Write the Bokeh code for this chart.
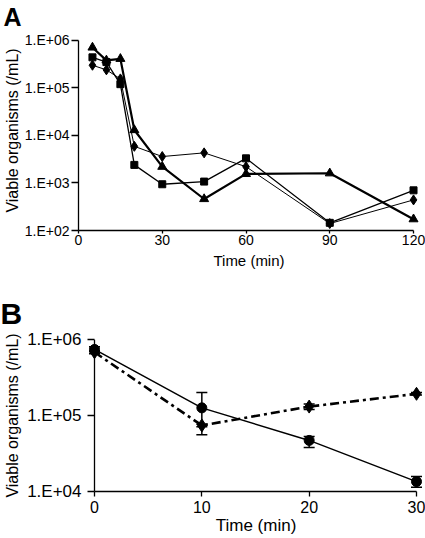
from bokeh.plotting import figure
from bokeh.models import (FixedTicker, CustomJSTickFormatter, Whisker,
                          ColumnDataSource, TeeHead, Range1d, Span)
from bokeh.embed import file_html
from bokeh.resources import INLINE

FONT = "Liberation Sans"

# ---------------- data: panel A ----------------
time_a = [5, 10, 15, 20, 30, 45, 60, 90, 120]
a_diamond = [3.0e5, 2.4e5, 1.55e5, 5.9e3, 3.6e3, 4.3e3, 2.2e3, 1.4e2, 4.4e2]
a_square = [4.4e5, 3.5e5, 1.2e5, 2.4e3, 9.4e2, 1.07e3, 3.3e3, 1.45e2, 7.0e2]
a_triangle = [7.1e5, 3.8e5, 4.1e5, 1.3e4, 2.2e3, 4.6e2, 1.55e3, 1.6e3, 1.73e2]
x_ticks_a = [0, 30, 60, 90, 120]
y_ticks_a = [1e2, 1e3, 1e4, 1e5, 1e6]

# ---------------- data: panel B ----------------
time_b = [0, 10, 20, 30]
b_circle = [7.4e5, 1.26e5, 4.7e4, 1.35e4]
b_circle_lo = [6.9e5, 5.6e4, 3.8e4, 1.14e4]
b_circle_hi = [8.0e5, 2.0e5, 5.3e4, 1.57e4]
b_diamond = [6.8e5, 7.4e4, 1.31e5, 1.93e5]
b_diamond_lo = [6.5e5, 7.1e4, 1.2e5, 1.86e5]
b_diamond_hi = [7.1e5, 7.7e4, 1.42e5, 2.0e5]
x_ticks_b = [0, 10, 20, 30]
y_ticks_b = [1e4, 1e5, 1e6]

x_title = "Time (min)"
y_title = "Viable organisms (/mL)"

FMT = ("const e = Math.round(Math.log10(tick));"
       "return '1.E+' + (e < 10 ? '0' + e : '' + e);")


def base_style(p):
    p.outline_line_color = None
    p.xgrid.visible = False
    p.ygrid.visible = False
    p.background_fill_color = "white"
    p.border_fill_color = "white"
    for ax in (p.xaxis[0], p.yaxis[0]):
        ax.axis_line_color = "black"
        ax.axis_line_width = 1.3
        ax.major_tick_line_color = "black"
        ax.major_tick_line_width = 1.3
        ax.major_tick_in = 0
        ax.minor_tick_line_color = None
        ax.major_label_text_font = FONT
        ax.major_label_text_color = "black"
        ax.axis_label_text_font = FONT
        ax.axis_label_text_font_style = "normal"
        ax.axis_label_text_color = "black"


def panel_title(p, text, size, offset, standoff):
    t = p.title
    t.text = text
    t.align = "left"
    t.offset = offset
    t.standoff = standoff
    t.vertical_align = "bottom"
    t.text_font = FONT
    t.text_font_size = size
    t.text_font_style = "bold"
    t.text_color = "black"


# ---------------- panel A ----------------
# frame reaches 10 px above the 1.E+06 tick (48 px per decade) so that the
# bold panel letter can sit close to the top edge
a_top = max(y_ticks_a) * 10 ** (10 / 48)
pa = figure(width=425, height=276, y_axis_type="log",
            x_range=Range1d(0, 122.14), y_range=Range1d(min(y_ticks_a), a_top),
            output_backend="svg", toolbar_location=None,
            min_border_left=77, min_border_right=6,
            min_border_top=28, min_border_bottom=46)
base_style(pa)
pa.xaxis.ticker = FixedTicker(ticks=x_ticks_a, minor_ticks=[])
pa.xaxis.bounds = (0, 120)
pa.xaxis.major_tick_out = 3
pa.xaxis.major_label_standoff = 1
pa.xaxis.major_label_text_font_size = "14px"
pa.xaxis.axis_label = x_title
pa.xaxis.axis_label_text_font_size = "15px"
pa.xaxis.axis_label_standoff = 4
pa.yaxis.ticker = FixedTicker(ticks=y_ticks_a, minor_ticks=[])
pa.yaxis.bounds = (min(y_ticks_a), max(y_ticks_a))
pa.yaxis.formatter = CustomJSTickFormatter(code=FMT)
pa.yaxis.major_tick_out = 7
pa.yaxis.major_label_standoff = 2
pa.yaxis.major_label_text_font_size = "14px"
pa.yaxis.axis_label = y_title
pa.yaxis.axis_label_text_font_size = "16px"
pa.yaxis.axis_label_standoff = 1
panel_title(pa, "A", "25px", -75, 0)

pa.line(time_a, a_diamond, line_color="black", line_width=1)
pa.scatter(time_a, a_diamond, marker="diamond", size=10, color="black")
pa.line(time_a, a_square, line_color="black", line_width=1.3)
pa.scatter(time_a, a_square, marker="square", size=7, color="black")
pa.line(time_a, a_triangle, line_color="black", line_width=2.2)
pa.scatter(time_a, a_triangle, marker="triangle", size=9, color="black")

# ---------------- panel B ----------------
pb = figure(width=425, height=262, y_axis_type="log",
            x_range=Range1d(-0.559, 30.652), y_range=Range1d(1e4, 1e6),
            output_backend="svg", toolbar_location=None,
            min_border_left=88, min_border_right=2,
            min_border_top=63, min_border_bottom=47)
base_style(pb)
pb.xaxis.ticker = FixedTicker(ticks=x_ticks_b, minor_ticks=[])
pb.xaxis.bounds = (0, 30)
pb.xaxis.major_tick_out = 5
pb.xaxis.major_label_standoff = 4
pb.xaxis.major_label_text_font_size = "16px"
pb.xaxis.axis_label = x_title
pb.xaxis.axis_label_text_font_size = "17px"
pb.xaxis.axis_label_standoff = 0
pb.yaxis.ticker = FixedTicker(ticks=y_ticks_b, minor_ticks=[])
pb.yaxis.formatter = CustomJSTickFormatter(code=FMT)
pb.yaxis.axis_line_color = None
pb.yaxis.major_tick_in = 6
pb.yaxis.major_tick_out = 1
pb.yaxis.major_label_standoff = 6
pb.yaxis.major_label_text_font_size = "17px"
pb.yaxis.axis_label = y_title
pb.yaxis.axis_label_text_font_size = "16px"
pb.yaxis.axis_label_standoff = 3
pb.add_layout(Span(location=0, dimension="height", line_color="black",
                   line_width=1.3))
panel_title(pb, "B", "30px", -88, 20)

src_c = ColumnDataSource(dict(x=time_b, lo=b_circle_lo, hi=b_circle_hi))
src_d = ColumnDataSource(dict(x=time_b, lo=b_diamond_lo, hi=b_diamond_hi))
for src in (src_c, src_d):
    pb.add_layout(Whisker(source=src, base="x", lower="lo", upper="hi",
                          line_color="black", line_width=1.5,
                          upper_head=TeeHead(size=11, line_width=1.5, line_color="black"),
                          lower_head=TeeHead(size=11, line_width=1.5, line_color="black")))

pb.line(time_b, b_circle, line_color="black", line_width=1.5)
pb.scatter(time_b, b_circle, marker="circle", size=10, color="black")
pb.line(time_b, b_diamond, line_color="black", line_width=2.6, line_dash="9 4 3 4")
pb.scatter(time_b, b_diamond, marker="diamond", size=13, color="black")

with open("out.html", "w") as f:
    f.write(file_html([pa, pb], INLINE))
